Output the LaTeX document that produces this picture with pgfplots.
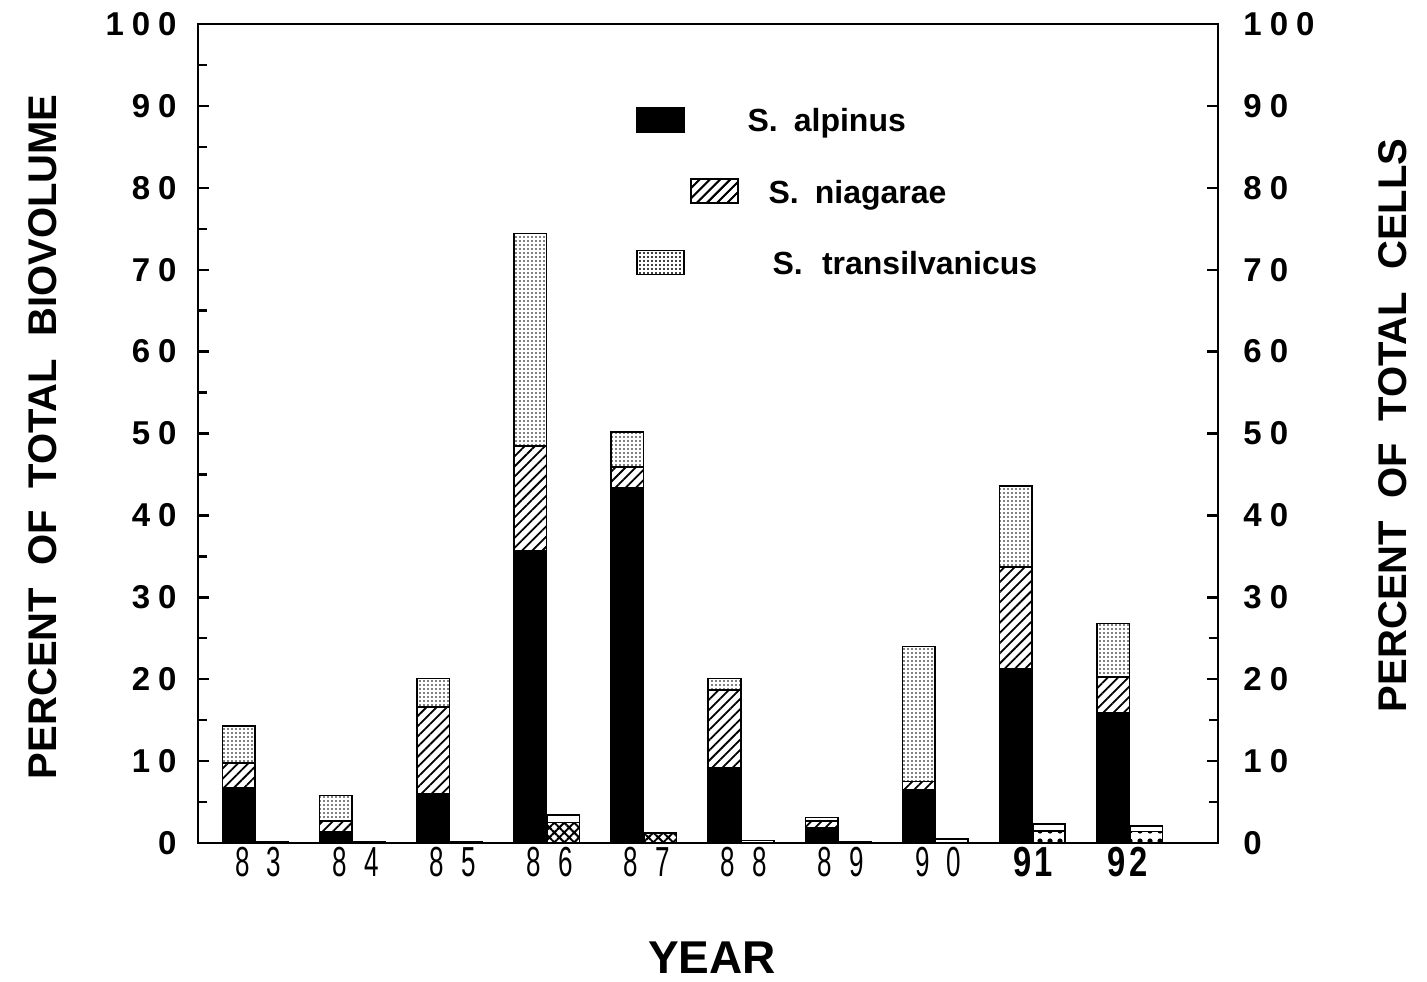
\documentclass[border=0pt]{standalone}
\usepackage{fontspec}
\setmainfont{Liberation Sans}
\usepackage{pgfplots}
\pgfplotsset{compat=1.18}
\usetikzlibrary{patterns,patterns.meta}
\newcommand{\dg}[2]{#1\hspace{4pt}#2}
\newcommand{\yr}[2]{\scalebox{0.62}[1]{\fontsize{21}{21}\selectfont #1\hspace{14pt}#2}}
\newcommand{\yb}[2]{\scalebox{0.78}[1]{\fontsize{21}{21}\selectfont\bfseries #1\hspace{2pt}#2}}
\newcommand{\tl}{\bfseries\fontsize{16.5}{17}\selectfont}
\begin{document}
\begin{tikzpicture}
\begin{axis}[
  at={(0,0)}, anchor=south west,
  scale only axis, width=510pt, height=409.5pt,
  xmin=-0.42, xmax=10.08, ymin=0, ymax=100,
  ybar stacked, bar width=0.335,
  axis line style={line width=1.4pt},
  ytick={0,10,...,100}, minor ytick={5,15,...,95},
  ytick pos=left, xtick pos=bottom,
  tick align=inside,
  major tick length=5.5pt, minor tick length=4.5pt,
  tick style={line width=1.2pt, black},
  xtick={0.2,1.2,2.2,3.2,4.2,5.2,6.2,7.2,8.18,9.15},
  xticklabels={\yr83,\yr84,\yr85,\yr86,\yr87,\yr88,\yr89,\yr90,\yb91,\yb92},
  xtick style={draw=none},
  yticklabels={0,\dg10,\dg20,\dg30,\dg40,\dg50,\dg60,\dg70,\dg80,\dg90,\dg1{0\hspace{4pt}0}},
  yticklabel style={font=\tl, anchor=east, inner sep=0pt, xshift=-10.5pt},
  xticklabel style={anchor=north, inner sep=0pt, yshift=-2pt},
  ylabel={PERCENT\hspace{0.55em}OF\hspace{0.55em}TOTAL\hspace{0.55em}BIOVOLUME},
  ylabel style={at={(axis description cs:-0.152,0.496)}, anchor=center, font=\bfseries\fontsize{20}{21}\selectfont},
  xlabel={YEAR},
  xlabel style={at={(axis description cs:0.504,-0.1404)}, anchor=center, font=\bfseries\fontsize{23}{24}\selectfont},
  legend style={at={(rel axis cs:0.4294,0.9108)}, anchor=north west, draw=none, fill=none,
    inner sep=0pt, outer sep=0pt, row sep=16.25pt,
    nodes={inner sep=0pt, text height=13pt, text depth=2pt},
    font=\bfseries\fontsize{16}{18}\selectfont},
  legend cell align=left,
]
\addplot[fill=black, draw=black, line width=0.8pt,
  legend image code/.code={\path[opacity=0] (0pt,-0.5pt) rectangle (55pt,11.5pt);\draw[fill=black,line width=0.8pt] (0pt,-5.5pt) rectangle (23.5pt,6.5pt);}]
coordinates {(0,6.8)(0.34,0)(1,1.4)(1.34,0)(2,6.0)(2.34,0)(3,35.7)(3.34,0)(4,43.4)(4.34,0)(5,9.2)(5.34,0)(6,1.8)(6.34,0)(7,6.5)(7.34,0)(8,21.3)(8.34,0)(9,15.9)(9.34,0)};
\addlegendentry[xshift=-10.5pt]{S.\hspace{0.5em}alpinus}
\addplot[fill=white, draw=black, line width=0.8pt, postaction={pattern={Lines[angle=45,distance=3.6pt,line width=0.9pt]}},
  legend image code/.code={\path[opacity=0] (0pt,-0.5pt) rectangle (55pt,11.5pt);\draw[fill=white,line width=0.8pt,postaction={pattern={Lines[angle=45,distance=3.6pt,line width=0.9pt]}}] (27pt,-5.5pt) rectangle (50.5pt,6.5pt);}]
coordinates {(0,3.0)(0.34,0)(1,1.3)(1.34,0)(2,10.6)(2.34,0)(3,12.8)(3.34,0)(4,2.5)(4.34,0)(5,9.5)(5.34,0)(6,0.9)(6.34,0)(7,1.0)(7.34,0)(8,12.4)(8.34,0)(9,4.4)(9.34,0)};
\addlegendentry{S.\hspace{0.5em}niagarae}
\addplot[fill=white, draw=black, line width=0.8pt, postaction={pattern={Dots[distance=2pt,radius=0.42pt]}},
  legend image code/.code={\path[opacity=0] (0pt,-0.5pt) rectangle (55pt,11.5pt);\draw[fill=white,line width=0.8pt,postaction={pattern={Dots[distance=2pt,radius=0.42pt]}}] (0pt,-5.5pt) rectangle (23.5pt,6.5pt);}]
coordinates {(0,4.5)(0.34,0)(1,3.1)(1.34,0)(2,3.5)(2.34,0)(3,25.9)(3.34,0)(4,4.3)(4.34,0)(5,1.4)(5.34,0)(6,0.4)(6.34,0)(7,16.5)(7.34,0)(8,9.9)(8.34,0)(9,6.5)(9.34,0)};
\addlegendentry[xshift=2pt]{S.\hspace{0.6em}transilvanicus}
\addplot[fill=white, draw=black, line width=0.8pt, forget plot, postaction={pattern={Hatch[angle=45,distance=3.5pt,line width=1pt]}}]
coordinates {(0,0)(0.34,0)(1,0)(1.34,0)(2,0)(2.34,0)(3,0)(3.34,2.5)(4,0)(4.34,1.25)(5,0)(5.34,0)(6,0)(6.34,0)(7,0)(7.34,0)(8,0)(8.34,0)(9,0)(9.34,0)};
\addplot[fill=white, draw=black, line width=0.8pt, forget plot, postaction={pattern={Dots[distance=5pt,radius=1.3pt]}}]
coordinates {(0,0)(0.34,0)(1,0)(1.34,0)(2,0)(2.34,0)(3,0)(3.34,0)(4,0)(4.34,0)(5,0)(5.34,0)(6,0)(6.34,0)(7,0)(7.34,0)(8,0)(8.34,1.5)(9,0)(9.34,1.4)};
\addplot[fill=white, draw=black, line width=0.8pt, forget plot]
coordinates {(0,0)(0.34,0.15)(1,0)(1.34,0.15)(2,0)(2.34,0.15)(3,0)(3.34,0.9)(4,0)(4.34,0)(5,0)(5.34,0.3)(6,0)(6.34,0.2)(7,0)(7.34,0.5)(8,0)(8.34,0.8)(9,0)(9.34,0.7)};
\end{axis}
\begin{axis}[
  at={(0,0)}, anchor=south west,
  scale only axis, width=510pt, height=409.5pt,
  xmin=-0.42, xmax=10.08, ymin=0, ymax=100,
  axis x line=none, axis y line*=right,
  axis line style={line width=1.4pt},
  ytick={0,10,...,100}, minor ytick={5,15,25},
  tick align=inside,
  major tick length=5.5pt, minor tick length=4.5pt,
  tick style={line width=1.2pt, black},
  yticklabels={0,\dg10,\dg20,\dg30,\dg40,\dg50,\dg60,\dg70,\dg80,\dg90,\dg1{0\hspace{4pt}0}},
  yticklabel style={font=\tl, anchor=west, inner sep=0pt, xshift=12.5pt},
  ylabel={PERCENT\hspace{0.55em}OF\hspace{0.55em}TOTAL\hspace{0.55em}CELLS},
  ylabel style={at={(axis description cs:1.1716,0.51)}, anchor=center, font=\bfseries\fontsize{20}{21}\selectfont},
]
\addplot[draw=none] coordinates {(0,0)};
\end{axis}
\pgfresetboundingbox
\path[use as bounding box] (-99pt,-69pt) rectangle (614.5pt,421.5pt);
\end{tikzpicture}
\end{document}
